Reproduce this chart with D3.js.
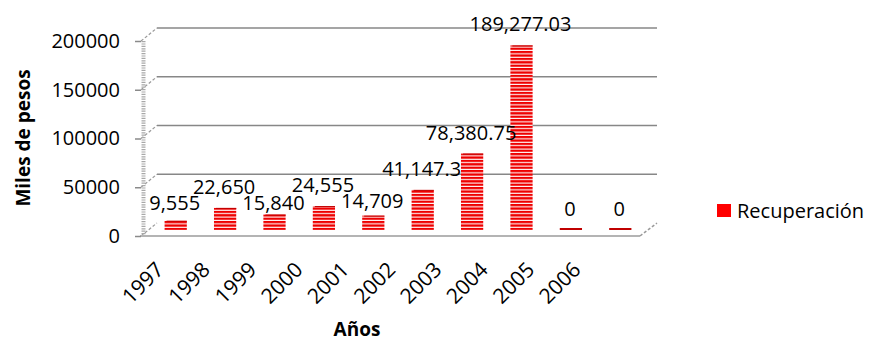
<!DOCTYPE html>
<html>
<head>
<meta charset="utf-8">
<script src="https://cdn.jsdelivr.net/npm/d3@7"></script>
<style>
  body { margin: 0; background: #fff; }
  text { font-family: "Open Sans", "Noto Sans", sans-serif; fill: #000; }
</style>
</head>
<body>
<div id="wrapper"></div>
<script>
const years = ["1997", "1998", "1999", "2000", "2001", "2002", "2003", "2004", "2005", "2006"];
const recuperacion = [9555, 22650, 15840, 24555, 14709, 41147.3, 78380.75, 189277.03, 0, 0];
const valueLabels = ["9,555", "22,650", "15,840", "24,555", "14,709", "41,147.3", "78,380.75", "189,277.03", "0", "0"];
const yTicks = [0, 50000, 100000, 150000, 200000];
const seriesName = "Recuperación";

const width = 873, height = 343;
// front plane of the 3d box and the depth offset to the back wall
const front = {left: 140, right: 640, bottom: 236, top: 41};
const depth = {dx: 17, dy: -13};

const svg = d3.select("#wrapper").append("svg")
    .attr("width", width).attr("height", height)
    .attr("viewBox", [0, 0, width, height]);

// striped fill like the excel pattern
const defs = svg.append("defs");
const pat = defs.append("pattern")
    .attr("id", "stripes")
    .attr("patternUnits", "userSpaceOnUse")
    .attr("width", 10).attr("height", 3.4);
pat.append("rect").attr("width", 10).attr("height", 3.4).attr("fill", "#fff");
pat.append("rect").attr("y", 0).attr("width", 10).attr("height", 2.3).attr("fill", "#ee0000");

const y_front = d3.scaleLinear().domain([0, 200000]).range([front.bottom, front.top]);
// bars sit half way into the depth
const y_bar = d3.scaleLinear().domain([0, 200000]).range([front.bottom - 6, front.top - 6]);
const x_bar = d3.scaleBand().domain(years)
    .range([151, 645])
    .paddingInner(0.55)
    .paddingOuter(0.275);
const x_label = d3.scalePoint().domain(years).range([165, 582]);

// back wall grid lines
svg.append("g").selectAll("line")
    .data(yTicks.filter(d => d > 0))
    .join("line")
    .attr("x1", front.left + depth.dx)
    .attr("x2", front.right + depth.dx)
    .attr("y1", d => y_front(d) + depth.dy)
    .attr("y2", d => y_front(d) + depth.dy)
    .attr("stroke", "#878787")
    .attr("stroke-width", 1.5);

// connectors from front ticks to back wall
svg.append("g").selectAll("line")
    .data(yTicks)
    .join("line")
    .attr("x1", front.left + 1)
    .attr("x2", front.left + depth.dx)
    .attr("y1", d => y_front(d))
    .attr("y2", d => y_front(d) + depth.dy)
    .attr("stroke", "#9a9a9a")
    .attr("stroke-width", 1.2)
    .attr("stroke-dasharray", "3,2");

// left side wall edge
svg.append("line")
    .attr("x1", front.left + 3.5).attr("x2", front.left + 3.5)
    .attr("y1", y_front(200000)).attr("y2", front.bottom)
    .attr("stroke", "#a8a8a8")
    .attr("stroke-width", 4)
    .attr("stroke-dasharray", "1.2,1.2");

// floor
svg.append("line")
    .attr("x1", front.left).attr("x2", front.right)
    .attr("y1", front.bottom).attr("y2", front.bottom)
    .attr("stroke", "#b4b4b4").attr("stroke-width", 2);
svg.append("line")
    .attr("x1", front.right).attr("x2", front.right + depth.dx)
    .attr("y1", front.bottom).attr("y2", front.bottom + depth.dy)
    .attr("stroke", "#9a9a9a").attr("stroke-width", 1.5)
    .attr("stroke-dasharray", "3,2");

// y axis
const y_axis = d3.axisLeft(y_front)
    .tickValues(yTicks)
    .tickFormat(d3.format("d"))
    .tickSize(6)
    .tickPadding(15);
const gy = svg.append("g")
    .attr("transform", `translate(${front.left + 1},0)`)
    .call(y_axis);
gy.select(".domain").remove();
gy.selectAll(".tick line").attr("stroke", "#8a8a8a").attr("stroke-width", 1.5);
gy.selectAll(".tick text")
    .style("font-family", "'Open Sans', sans-serif")
    .style("font-size", "20px")
    .attr("fill", "#000");

// bars
const data = years.map((y, i) => ({year: y, value: recuperacion[i], label: valueLabels[i]}));
svg.append("g").selectAll("rect")
    .data(data)
    .join("rect")
    .attr("x", d => x_bar(d.year))
    .attr("width", x_bar.bandwidth())
    .attr("y", d => Math.min(y_bar(d.value), y_bar(0) - 2))
    .attr("height", d => Math.max(y_bar(0) - y_bar(d.value), 2))
    .attr("fill", d => d.value > 0 ? "url(#stripes)" : "#c00000");

// top edge of each bar
svg.append("g").selectAll("line")
    .data(data.filter(d => d.value > 0))
    .join("line")
    .attr("x1", d => x_bar(d.year) + 2)
    .attr("x2", d => x_bar(d.year) + x_bar.bandwidth())
    .attr("y1", d => y_bar(d.value) + 0.5)
    .attr("y2", d => y_bar(d.value) + 0.5)
    .attr("stroke", "#c00000").attr("stroke-width", 1);

// value labels
const labels = svg.append("g").selectAll("text")
    .data(data)
    .join("text")
    .attr("x", d => x_bar(d.year) + x_bar.bandwidth() / 2 - 1)
    .attr("y", d => y_bar(d.value) - 14)
    .attr("text-anchor", "middle")
    .style("font-size", "20px")
    .text(d => d.label);

// push the lower of two colliding labels down, like excel does
const lineH = 16;
const nodes = labels.nodes();
for (let i = 1; i < nodes.length; i++) {
    const a = nodes[i - 1], b = nodes[i];
    const ax = +a.getAttribute("x"), bx = +b.getAttribute("x");
    const ay = +a.getAttribute("y"), by = +b.getAttribute("y");
    const xOverlap = (a.getComputedTextLength() + b.getComputedTextLength()) / 2 > bx - ax;
    if (xOverlap && Math.abs(ay - by) < lineH) {
        if (ay > by) a.setAttribute("y", by + lineH);
        else b.setAttribute("y", ay + lineH);
    }
}

// category labels
svg.append("g").selectAll("text")
    .data(years)
    .join("text")
    .attr("transform", d => `translate(${x_label(d)},271) rotate(-45)`)
    .attr("text-anchor", "end")
    .style("font-size", "21px")
    .text(d => d);

// axis titles
svg.append("text")
    .attr("transform", "translate(30,138) rotate(-90)")
    .attr("text-anchor", "middle")
    .style("font-size", "19px")
    .style("font-weight", "bold")
    .text("Miles de pesos");
svg.append("text")
    .attr("x", 357).attr("y", 336)
    .attr("text-anchor", "middle")
    .style("font-size", "19px")
    .style("font-weight", "bold")
    .text("Años");

// legend
const legend = svg.append("g").attr("transform", "translate(717,204)");
legend.append("rect").attr("width", 14).attr("height", 13).attr("fill", "#ff0000");
legend.append("text").attr("x", 20).attr("y", 13.5)
    .style("font-size", "20px")
    .text(seriesName);
</script>
</body>
</html>
